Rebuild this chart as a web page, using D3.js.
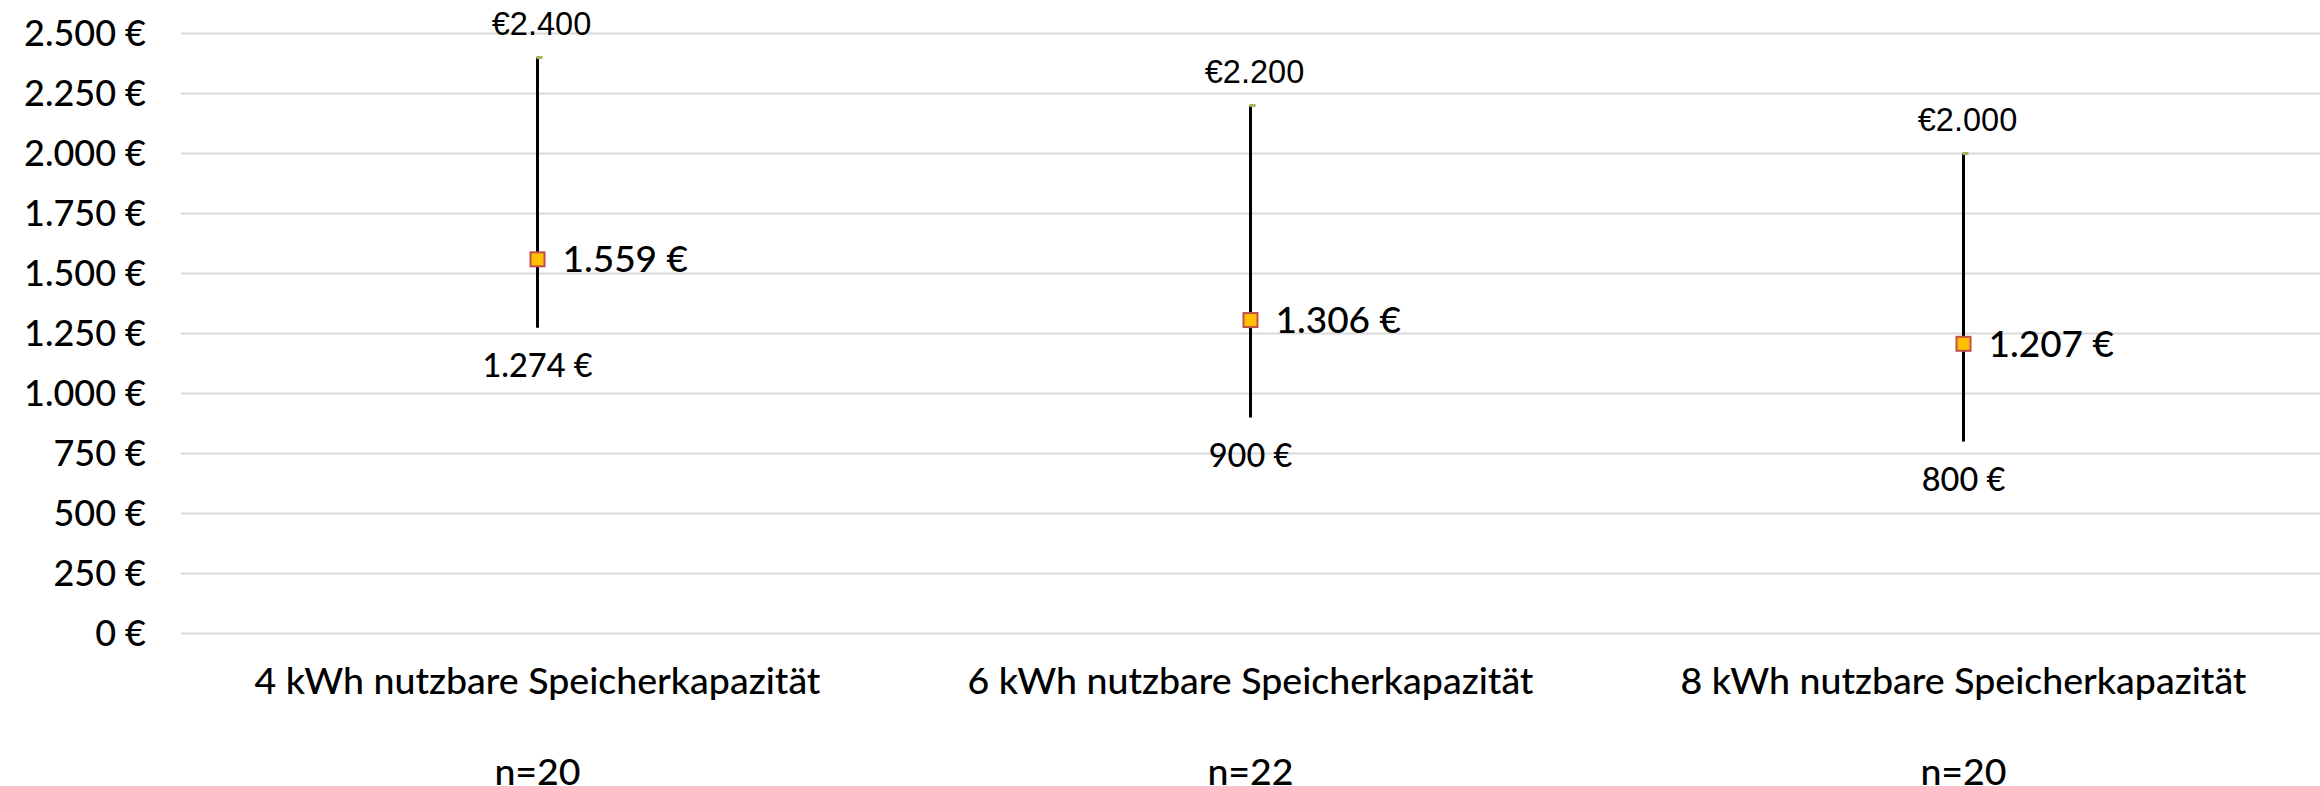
<!DOCTYPE html>
<html>
<head>
<meta charset="utf-8">
<script src="https://cdn.jsdelivr.net/npm/d3@7"></script>
<style>
  html, body { margin: 0; padding: 0; background: #fff; }
  svg { display: block; }
</style>
</head>
<body>
<div id="chart"></div>
<script>
// Chart values
const categories = ['4 kWh nutzbare Speicherkapazität', '6 kWh nutzbare Speicherkapazität', '8 kWh nutzbare Speicherkapazität'];
const sampleSizes = [20, 22, 20];
const maxValues = [2400, 2200, 2000];
const minValues = [1274, 900, 800];
const meanValues = [1559, 1306, 1207];
const yTicks = [0, 250, 500, 750, 1000, 1250, 1500, 1750, 2000, 2250, 2500];

const width = 2320;
const height = 786;
const margin = { top: 33.5, right: 0, bottom: 152.5, left: 181 };
const labelFont = 'Lato, sans-serif';

const de = d3.formatLocale({
  decimal: ',', thousands: '.', grouping: [3], currency: ['', ' €'],
});
const euroSuffix = de.format('$,.0f');
const euroPrefix = v => `€${de.format(',.0f')(v)}`;

const rows = categories.map((name, i) => ({
  name, n: sampleSizes[i], max: maxValues[i], min: minValues[i], mean: meanValues[i],
}));

const svg = d3.select('#chart')
  .append('svg')
  .attr('width', width)
  .attr('height', height);

const x = d3.scaleBand()
  .domain(categories)
  .range([margin.left, width - margin.right]);

const y = d3.scaleLinear()
  .domain([0, 2500])
  .range([height - margin.bottom, margin.top]);

// Gridlines
svg.append('g')
  .selectAll('line')
  .data(yTicks)
  .join('line')
  .attr('x1', margin.left)
  .attr('x2', width - margin.right)
  .attr('y1', d => y(d))
  .attr('y2', d => y(d))
  .style('stroke', '#d9d9d9')
  .style('stroke-width', 2);

// Y axis labels
const yAxis = d3.axisLeft(y)
  .tickValues(yTicks)
  .tickFormat(euroSuffix)
  .tickSize(0)
  .tickPadding(35);

svg.append('g')
  .attr('transform', `translate(${margin.left},0)`)
  .call(yAxis)
  .call(g => g.select('.domain').remove())
  .call(g => g.selectAll('text')
    .style('font-family', labelFont)
    .style('font-weight', 500)
    .style('font-size', '36px')
    .style('fill', '#000'));

// X axis labels: category and sample size
const xAxis = svg.append('g');
xAxis.selectAll('text.cat')
  .data(rows)
  .join('text')
  .attr('class', 'cat')
  .attr('x', d => x(d.name) + x.bandwidth() / 2)
  .attr('y', 694)
  .attr('text-anchor', 'middle')
  .style('font-family', labelFont)
  .style('font-weight', 500)
  .style('font-size', '37.5px')
  .style('fill', '#000')
  .text(d => d.name);

xAxis.selectAll('text.n')
  .data(rows)
  .join('text')
  .attr('class', 'n')
  .attr('x', d => x(d.name) + x.bandwidth() / 2)
  .attr('y', 785)
  .attr('text-anchor', 'middle')
  .style('font-family', labelFont)
  .style('font-weight', 500)
  .style('font-size', '37.5px')
  .style('fill', '#000')
  .text(d => `n=${d.n}`);

// Range lines with markers
const groups = svg.append('g')
  .selectAll('g')
  .data(rows)
  .join('g')
  .attr('transform', d => `translate(${x(d.name) + x.bandwidth() / 2},0)`);

groups.append('line')
  .attr('y1', d => y(d.min))
  .attr('y2', d => y(d.max))
  .style('stroke', '#000')
  .style('stroke-width', 3);

// small green high marker
groups.append('rect')
  .attr('x', -1)
  .attr('y', d => y(d.max) - 1.5)
  .attr('width', 6)
  .attr('height', 3)
  .style('fill', '#9bbb59');

groups.append('rect')
  .attr('x', -7)
  .attr('y', d => y(d.mean) - 7)
  .attr('width', 14)
  .attr('height', 14)
  .style('fill', '#ffc000')
  .style('stroke', '#c0504d')
  .style('stroke-width', 2);

groups.append('text')
  .attr('x', 4)
  .attr('y', d => y(d.max) - 23)
  .attr('text-anchor', 'middle')
  .style('font-family', '"Liberation Sans", Arial, sans-serif')
  .style('font-size', '32.5px')
  .style('fill', '#000')
  .text(d => euroPrefix(d.max));

groups.append('text')
  .attr('x', 0)
  .attr('y', d => y(d.min) + 49)
  .attr('text-anchor', 'middle')
  .style('font-family', labelFont)
  .style('font-weight', 500)
  .style('font-size', '32.5px')
  .style('fill', '#000')
  .text(d => euroSuffix(d.min));

groups.append('text')
  .attr('x', 25)
  .attr('y', d => y(d.mean) + 13)
  .style('font-family', labelFont)
  .style('font-weight', 500)
  .style('font-size', '37px')
  .style('fill', '#000')
  .text(d => euroSuffix(d.mean));
</script>
</body>
</html>
